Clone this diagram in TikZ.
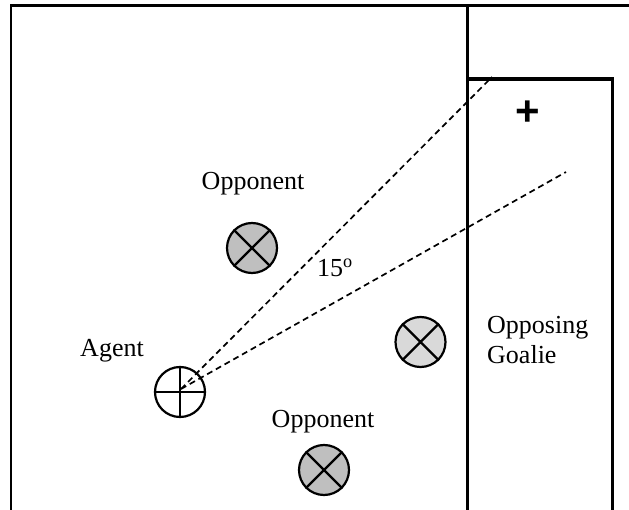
\documentclass[tikz,border=0pt]{standalone}
\usepackage{fontspec}
\setmainfont{Liberation Serif}
\newfontfamily\plusfont{Liberation Sans}
\begin{document}
\begin{tikzpicture}[x=1pt,y=-1pt,
  frameline/.style={line width=2.6pt},
  goalline/.style={line width=3.6pt},
  player/.style={circle,draw,line width=2.2pt,minimum size=50pt,inner sep=0pt},
  opp/.style={player,fill=black!25},
  goalie/.style={player,fill=black!15},
  crossline/.style={line width=2.2pt},
  sight/.style={line width=1.7pt,dash pattern=on 6pt off 4pt},
  lbl/.style={font=\fontsize{26}{30}\selectfont,inner sep=0pt,anchor=base}]
\useasboundingbox (0,0) rectangle (629,510);
% field
\draw[frameline] (11,510) -- (11,5.5) -- (629,5.5);
\draw[goalline] (467.5,5.5) -- (467.5,510);
\draw[goalline] (467.5,79) -- (612.5,79) -- (612.5,510);
% players
\node[player,fill=white] (agent) at (180,392) {};
\draw[crossline] (agent.north) -- (agent.south) (agent.west) -- (agent.east);
\node[opp] (o1) at (252,248) {};
\draw[crossline] (o1.north west) -- (o1.south east) (o1.north east) -- (o1.south west);
\node[opp] (o2) at (324,470) {};
\draw[crossline] (o2.north west) -- (o2.south east) (o2.north east) -- (o2.south west);
\node[goalie] (g) at (420.5,342) {};
\draw[crossline] (g.north west) -- (g.south east) (g.north east) -- (g.south west);
% sight lines
\coordinate (a0) at (181,389);
\coordinate (e1) at (492,77);
\coordinate (e2) at (566,172);
\draw[sight] (a0) -- (e1);
\draw[sight] (a0) -- (e2);
% labels
\node[lbl] (t1) at (253,190) {Opponent};
\node[lbl] (t2) at (112,357) {Agent};
\node[lbl] (t3) at (323,427) {Opponent};
\node[lbl] (t4) at (335,277) {15\textsuperscript{o}};
\node[lbl,anchor=base west] (t5) at (487,334) {Opposing};
\node[lbl,anchor=base west] (t6) at (487,363) {Goalie};
\node[font=\plusfont\bfseries\fontsize{42}{42}\selectfont,inner sep=0pt] (plus) at (528,113) {+};
\end{tikzpicture}
\end{document}
